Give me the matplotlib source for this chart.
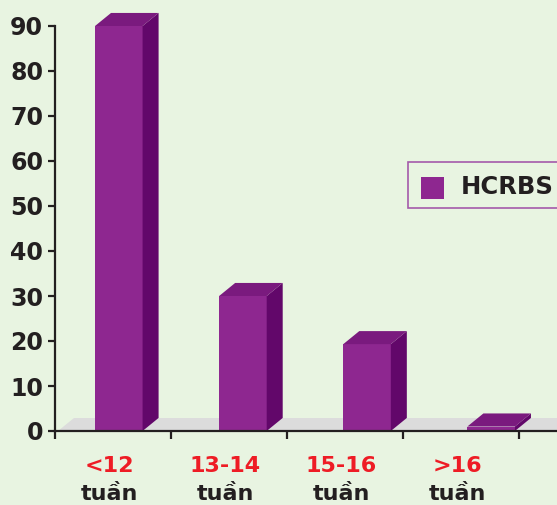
import matplotlib.pyplot as plt
from matplotlib.patches import Polygon
from matplotlib.transforms import blended_transform_factory

# data
groups = ["<12", "13-14", "15-16", ">16"]
unit = "tuần"
values = [90, 30, 19.3, 1]
series_name = "HCRBS"

bg = "#E8F4E1"
front_c = "#8E2790"
side_c = "#62076A"
top_c = "#7A1A7E"
floor_c = "#DCDCDC"
ink = "#231F20"
red = "#EE1C25"

plt.rcParams['font.family'] = ['DejaVu Sans']

fig = plt.figure(figsize=(5.57, 5.05), dpi=100, facecolor=bg)
ax = fig.add_axes([55 / 557, 74 / 505, 502 / 557, 431 / 505])
ax.set_facecolor(bg)

xmax = 502 / 116
ax.set_xlim(0, xmax)
ax.set_ylim(0, 431 / 4.5)

dx = 0.138   # depth in x (data units)
dy = 2.9     # depth in y (data units)
w = 0.41

# floor
ax.add_patch(Polygon([(0.03, 0), (xmax + 1, 0), (xmax + 1, dy), (0.03 + dx, dy)],
                     closed=True, facecolor=floor_c, edgecolor='none', zorder=1))

for i, v in enumerate(values):
    xc = 0.55 + 1.07 * i
    x0, x1 = xc - w / 2, xc + w / 2
    ax.bar(xc, v, width=w, color=front_c, zorder=3, linewidth=0)
    ax.add_patch(Polygon([(x1, 0), (x1 + dx, dy), (x1 + dx, v + dy), (x1, v)],
                         facecolor=side_c, edgecolor='none', zorder=3))
    ax.add_patch(Polygon([(x0, v), (x1, v), (x1 + dx, v + dy), (x0 + dx, v + dy)],
                         facecolor=top_c, edgecolor='none', zorder=3))

# axes styling
for s in ['top', 'right']:
    ax.spines[s].set_visible(False)
for s in ['left', 'bottom']:
    ax.spines[s].set_color(ink)
    ax.spines[s].set_linewidth(1.6)
    ax.spines[s].set_zorder(4)
ax.spines['left'].set_bounds(0, 90)

ax.set_yticks(range(0, 91, 10))
ax.tick_params(axis='y', length=5, width=1.6, color=ink, pad=3.5,
               labelsize=17, labelcolor=ink)
for lab in ax.get_yticklabels():
    lab.set_fontweight('bold')

ax.set_xticks(range(0, 5))
ax.set_xticklabels([])
ax.tick_params(axis='x', length=6, width=1.6, color=ink)

trans = blended_transform_factory(ax.transData, fig.transFigure)
for i, g in enumerate(groups):
    xc = i + 0.47
    ax.text(xc, 1 - 466 / 505, g, transform=trans, ha='center', va='center',
            color=red, fontsize=16, fontweight='bold')
    ax.text(xc, 1 - 494 / 505, unit, transform=trans, ha='center', va='center',
            color=ink, fontsize=16, fontweight='bold')

# legend
fig.patches.append(Polygon([(408 / 557, 1 - 162 / 505), (1.02, 1 - 162 / 505),
                            (1.02, 1 - 208 / 505), (408 / 557, 1 - 208 / 505)],
                           closed=True, transform=fig.transFigure,
                           facecolor=bg, edgecolor="#A45AAA", linewidth=1.2))
fig.patches.append(Polygon([(421 / 557, 1 - 177 / 505), (444 / 557, 1 - 177 / 505),
                            (444 / 557, 1 - 199 / 505), (421 / 557, 1 - 199 / 505)],
                           closed=True, transform=fig.transFigure,
                           facecolor=front_c, edgecolor='none'))
fig.text(461 / 557, 1 - 187 / 505, series_name, ha='left', va='center',
         color=ink, fontsize=17.5, fontweight='bold')

fig.savefig("out.png", dpi=100, facecolor=bg)
